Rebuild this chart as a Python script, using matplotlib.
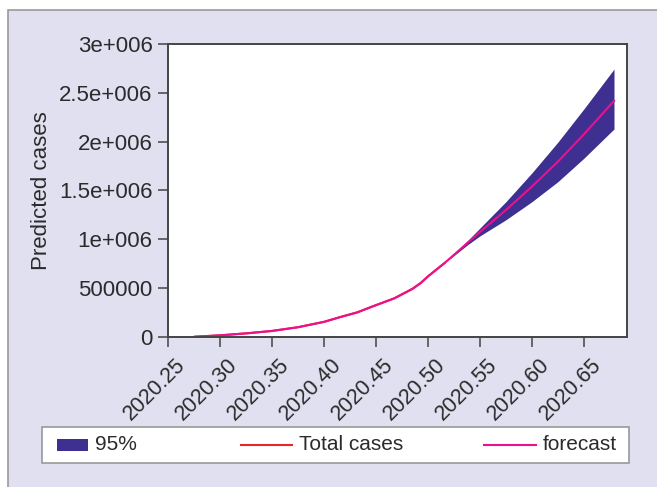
import matplotlib

matplotlib.use("Agg")
import matplotlib.pyplot as plt
from matplotlib.lines import Line2D
from matplotlib.patches import Rectangle
from matplotlib.transforms import ScaledTranslation

plt.rcParams["font.family"] = ["Liberation Sans", "DejaVu Sans"]

# observed cumulative cases (decimal year)
hist_t = [2020.276, 2020.300, 2020.325, 2020.350, 2020.375, 2020.400, 2020.416,
          2020.432, 2020.448, 2020.4675, 2020.485, 2020.493, 2020.500, 2020.516]
hist_y = [3000, 17000, 37000, 62000, 100000, 155000, 205000,
          252000, 318000, 395000, 492000, 552000, 620000, 757000]

# forecast with 95% interval
fc_t = [2020.516, 2020.538, 2020.550, 2020.575, 2020.600, 2020.625, 2020.650, 2020.679]
fc_mean = [757000, 963000, 1075000, 1300000, 1540000, 1795000, 2075000, 2417000]
fc_upper = [757000, 985000, 1115000, 1385000, 1680000, 1995000, 2335000, 2743000]
fc_lower = [757000, 943000, 1035000, 1200000, 1385000, 1590000, 1830000, 2130000]

xticks = [2020.25, 2020.30, 2020.35, 2020.40, 2020.45, 2020.50, 2020.55, 2020.60, 2020.65]
xtick_labels = ["2020.25", "2020.30", "2020.35", "2020.40", "2020.45",
                "2020.50", "2020.55", "2020.60", "2020.65"]
yticks = [0, 500000, 1000000, 1500000, 2000000, 2500000, 3000000]
ytick_labels = ["0", "500000", "1e+006", "1.5e+006", "2e+006", "2.5e+006", "3e+006"]
legend_labels = ["95%", "Total cases", "forecast"]

BG = "#E0E0F0"
BAND = "#3D3090"
RED = "#E8262A"
MAGENTA = "#EC108C"
TXT = "#2b2b2b"
W, H = 657, 487

fig = plt.figure(figsize=(W / 100, H / 100), dpi=100)
fig.patch.set_facecolor("white")


def fx(px):
    return px / W


def fy(py):
    return (H - py) / H


fig.patches.append(Rectangle((fx(8), -0.1), 1.1, fy(10) + 0.1,
                             transform=fig.transFigure, facecolor=BG,
                             edgecolor="#9a9a9a", linewidth=1.2, zorder=-5))

ax = fig.add_axes([fx(168), fy(337), fx(627) - fx(168), fy(44) - fy(337)])
ax.set_facecolor("white")

ax.fill_between(fc_t, fc_lower, fc_upper, color=BAND, linewidth=0)
ax.plot(hist_t, hist_y, color=RED, lw=1.5)
ax.plot(hist_t + fc_t[1:], hist_y + fc_mean[1:], color=MAGENTA, lw=1.5)

ax.set_xlim(2020.25, 2020.6915)
ax.set_ylim(0, 3000000)
ax.set_xticks(xticks)
ax.set_xticklabels(xtick_labels, rotation=45, ha="right", va="top",
                   rotation_mode="anchor")
ax.set_yticks(yticks)
ax.set_yticklabels(ytick_labels)
ax.tick_params(axis="both", direction="out", length=7, width=1.1,
               colors="#444444", labelcolor=TXT, labelsize=16, pad=4)
ax.tick_params(axis="x", labelsize=15.5)
shift = ScaledTranslation(7 / 100, -2 / 100, fig.dpi_scale_trans)
for lbl in ax.get_xticklabels():
    lbl.set_transform(lbl.get_transform() + shift)
for s in ax.spines.values():
    s.set_color("#444444")
    s.set_linewidth(1.4)
ax.set_ylabel("Predicted cases", fontsize=16, color=TXT, labelpad=5)

# legend strip below the axes
fig.patches.append(Rectangle((fx(42), fy(463)), fx(629) - fx(42), fy(427) - fy(463),
                             transform=fig.transFigure, facecolor="white",
                             edgecolor="#9a9a9a", linewidth=1.2))
ly = fy(445)
fig.patches.append(Rectangle((fx(57), fy(451)), fx(88) - fx(57), fy(439) - fy(451),
                             transform=fig.transFigure, facecolor=BAND, edgecolor="none"))
fig.lines.append(Line2D([fx(241), fx(292)], [ly, ly], transform=fig.transFigure,
                        color=RED, lw=1.5))
fig.lines.append(Line2D([fx(484), fx(536)], [ly, ly], transform=fig.transFigure,
                        color=MAGENTA, lw=1.5))
for x, text in zip([95, 299, 543], legend_labels):
    fig.text(fx(x), ly, text, fontsize=15, color=TXT, ha="left", va="center")

fig.savefig("out.png", dpi=100)
